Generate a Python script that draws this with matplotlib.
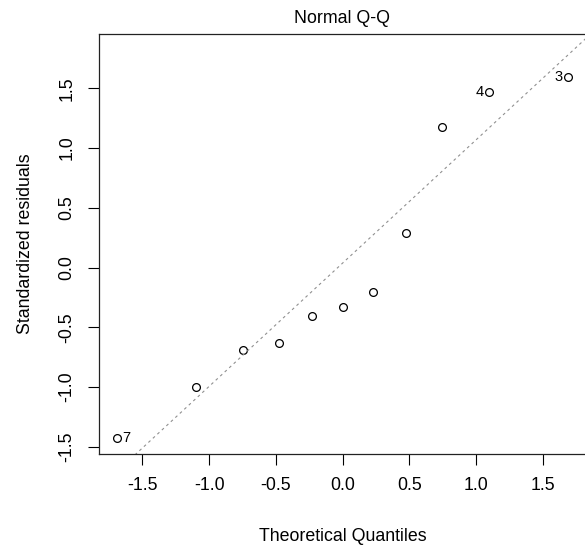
import numpy as np
import matplotlib
matplotlib.use("Agg")
import matplotlib.pyplot as plt

plt.rcParams['font.family'] = ['Liberation Sans', 'DejaVu Sans']

# theoretical quantiles (n = 11) and standardized residuals, sorted
theo = [-1.69, -1.097, -0.748, -0.473, -0.229, 0.0, 0.229, 0.473, 0.748, 1.097, 1.69]
resid = [-1.431, -1.003, -0.690, -0.629, -0.405, -0.327, -0.201, 0.288, 1.176, 1.469, 1.598]
ids = {0: "7", 9: "4", 10: "3"}
xticks = [-1.5, -1.0, -0.5, 0.0, 0.5, 1.0, 1.5]
yticks = [-1.5, -1.0, -0.5, 0.0, 0.5, 1.0, 1.5]

W, H = 585, 548
fig = plt.figure(figsize=(W/100, H/100), dpi=100)
ax = fig.add_axes([99/W, 94/H, 487/W, 420/H])

fs = 12.8
ax.plot(theo, resid, 'o', mfc='none', mec='black', ms=5.6, mew=0.9, clip_on=False)

# reference line through quartiles
y = np.array(resid)
q1, q3 = np.percentile(y, [25, 75])
z = 0.6744898
slope = (q3 - q1) / (2 * z)
inter = q1 + z * slope
xl = np.array([-1.825, 1.825])
ax.plot(xl, inter + slope * xl, color='#909090', lw=0.8, ls=(0, (2.5, 3)))

for i, lab in ids.items():
    if lab == "7":
        ax.text(theo[i] + 0.04, resid[i], lab, ha='left', va='center', fontsize=10.5)
    else:
        ax.text(theo[i] - 0.04, resid[i], lab, ha='right', va='center', fontsize=10.5)

ax.set_xlim(-1.825, 1.825)
ax.set_ylim(-1.561, 1.955)
ax.set_xticks(xticks)
ax.set_xticklabels([f"{v:.1f}" for v in xticks])
ax.set_yticks(yticks)
ax.set_yticklabels([f"{v:.1f}" for v in yticks], rotation=90, va='center')
ax.tick_params(direction='out', length=7.8, width=0.8, labelsize=fs, pad=9)
for s in ax.spines.values():
    s.set_linewidth(0.9)
    s.set_color('#222222')

ax.set_xlabel("Theoretical Quantiles", fontsize=fs, labelpad=24)
ax.set_ylabel("Standardized residuals", fontsize=fs, labelpad=18)
ax.set_title("Normal Q-Q", fontsize=fs, pad=8)

fig.savefig("out.png", dpi=100)
